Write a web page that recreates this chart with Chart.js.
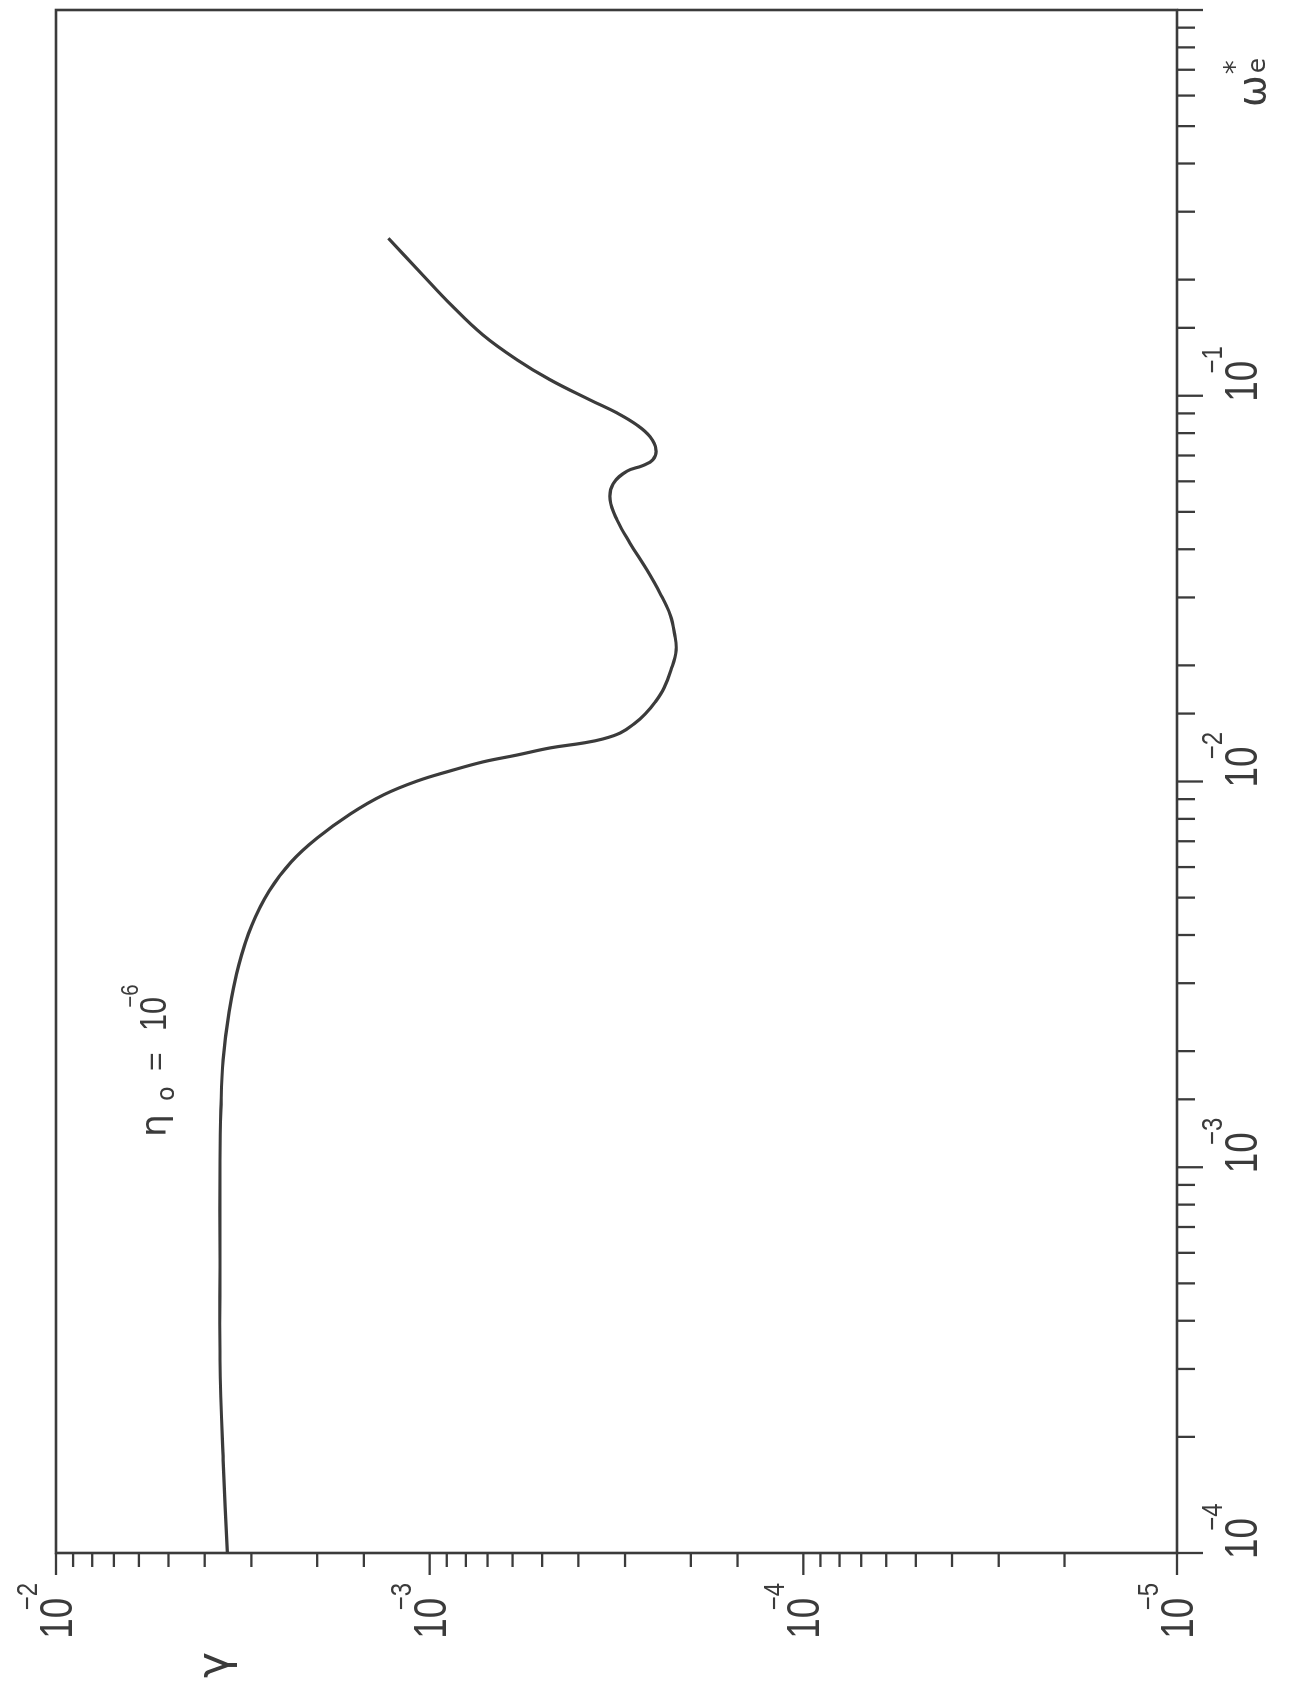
<!DOCTYPE html>
<html>
<head>
<meta charset="utf-8">
<script src="https://cdn.jsdelivr.net/npm/chart.js@4/dist/chart.umd.min.js"></script>
<style>
  html, body { margin: 0; padding: 0; background: #fff; overflow: hidden; }
  #wrap {
    position: absolute; left: 0; top: 0;
    width: 1687px; height: 1297px;
    transform-origin: 0 0;
    transform: translate(0, 1687px) rotate(-90deg);
  }
</style>
</head>
<body>
<div id="wrap"><canvas id="c" width="1687" height="1297" style="width:1687px;height:1297px"></canvas></div>
<script>
// ---- data ----
const omega = [1.00e-4, 1.74e-4, 3.17e-4, 5.75e-4, 1.04e-3, 1.41e-3, 1.90e-3, 2.53e-3, 3.35e-3, 4.25e-3,
  5.20e-3, 6.18e-3, 7.14e-3, 8.24e-3, 9.23e-3, 1.003e-2, 1.065e-2, 1.124e-2, 1.171e-2, 1.222e-2,
  1.258e-2, 1.289e-2, 1.336e-2, 1.410e-2, 1.496e-2, 1.608e-2, 1.747e-2, 1.946e-2, 2.19e-2, 2.41e-2,
  2.70e-2, 3.08e-2, 3.53e-2, 4.15e-2, 4.76e-2, 5.37e-2, 5.91e-2, 6.38e-2, 6.58e-2, 6.82e-2,
  7.24e-2, 7.82e-2, 8.40e-2, 9.02e-2, 9.75e-2, 0.110, 0.124, 0.1437, 0.171, 0.209, 0.256];
const gamma = [3.48e-3, 3.57e-3, 3.64e-3, 3.64e-3, 3.64e-3, 3.62e-3, 3.57e-3, 3.44e-3, 3.24e-3, 2.99e-3,
  2.69e-3, 2.35e-3, 2.00e-3, 1.63e-3, 1.33e-3, 1.08e-3, 8.82e-4, 7.20e-4, 5.84e-4, 4.76e-4,
  3.89e-4, 3.44e-4, 3.09e-4, 2.84e-4, 2.65e-4, 2.49e-4, 2.36e-4, 2.26e-4, 2.19e-4, 2.21e-4,
  2.27e-4, 2.42e-4, 2.62e-4, 2.91e-4, 3.15e-4, 3.29e-4, 3.23e-4, 2.96e-4, 2.70e-4, 2.53e-4,
  2.48e-4, 2.57e-4, 2.79e-4, 3.15e-4, 3.72e-4, 4.76e-4, 5.84e-4, 7.20e-4, 8.71e-4, 1.06e-3, 1.29e-3];
const omegaLabelExponents = [-4, -3, -2, -1];
const gammaLabelExponents = [-2, -3, -4, -5];
const curveLabel = { symbol: 'η', sub: 'o', eq: '=', base: '10', exp: '−6' };
const xTitle = { symbol: 'ω', sub: 'e', sup: '*' };
const yTitle = 'γ';

const INK = '#3b3b3b';
const NUM_FONT = "'Liberation Sans', 'DejaVu Sans', sans-serif";

function isDecade(v) {
  const l = Math.log10(v);
  return Math.abs(l - Math.round(l)) < 1e-6;
}

// draws "10" with a raised exponent
function drawPower(ctx, x, baseline, expText, align, baseSize, expSize, squeeze) {
  ctx.save();
  ctx.font = baseSize + 'px ' + NUM_FONT;
  const bw = ctx.measureText('10').width * squeeze;
  ctx.font = expSize + 'px ' + NUM_FONT;
  const mw = ctx.measureText('−').width * squeeze;
  const ew = ctx.measureText(expText).width * squeeze;
  const total = bw - mw * 0.9 + ew;
  const x0 = align === 'right' ? x - total : x;
  const digitH = baseSize * 0.716;
  ctx.fillStyle = INK;
  ctx.textAlign = 'left';
  ctx.textBaseline = 'alphabetic';
  ctx.translate(x0, baseline);
  ctx.scale(squeeze, 1);
  ctx.font = baseSize + 'px ' + NUM_FONT;
  ctx.fillText('10', 0, 0);
  ctx.font = expSize + 'px ' + NUM_FONT;
  ctx.fillText(expText, (bw - mw * 0.9) / squeeze, -digitH - 2);
  ctx.restore();
}

const paperAxes = {
  id: 'paperAxes',
  afterDraw(chart) {
    const { ctx, chartArea: a, scales: { x, y } } = chart;
    ctx.save();
    ctx.strokeStyle = INK;
    ctx.lineWidth = 2.6;
    ctx.strokeRect(a.left, a.top, a.right - a.left, a.bottom - a.top);
    ctx.lineWidth = 2.3;
    ctx.lineCap = 'butt';
    // omega axis ticks (right side of the page)
    x.ticks.forEach(t => {
      const p = x.getPixelForValue(t.value);
      const major = isDecade(t.value);
      ctx.beginPath();
      ctx.moveTo(p, a.bottom);
      ctx.lineTo(p, a.bottom + (major ? 26 : 18));
      ctx.stroke();
      const e = Math.round(Math.log10(t.value));
      if (major && omegaLabelExponents.includes(e)) {
        drawPower(ctx, p - 6, a.bottom + 80, '−' + Math.abs(e), 'left', 46, 30, 0.8);
      }
    });
    // gamma axis ticks (bottom of the page)
    y.ticks.forEach(t => {
      const p = y.getPixelForValue(t.value);
      const major = isDecade(t.value);
      ctx.beginPath();
      ctx.moveTo(a.left, p);
      ctx.lineTo(a.left - (major ? 22 : 14), p);
      ctx.stroke();
      const e = Math.round(Math.log10(t.value));
      if (major && gammaLabelExponents.includes(e)) {
        drawPower(ctx, a.left - 30, p + 16, '−' + Math.abs(e), 'right', 46, 30, 0.8);
      }
    });
    ctx.fillStyle = INK;
    ctx.textAlign = 'left';
    ctx.textBaseline = 'alphabetic';
    // y title
    ctx.font = "44px 'DejaVu Sans', sans-serif";
    ctx.fillText(yTitle, 9, 228);
    // x title
    const xt = a.right - 97;
    ctx.font = "38px 'DejaVu Sans', sans-serif";
    ctx.fillText(xTitle.symbol, xt, a.bottom + 88);
    const ow = ctx.measureText(xTitle.symbol).width;
    ctx.font = "25px 'DejaVu Sans', sans-serif";
    ctx.fillText(xTitle.sub, xt + ow + 2, a.bottom + 88);
    ctx.font = "28px 'DejaVu Sans', sans-serif";
    ctx.fillText(xTitle.sup, xt + ow + 1, a.bottom + 67);
    // curve label
    const lu = 550, lb = 166;
    ctx.font = "36px 'DejaVu Sans', sans-serif";
    ctx.fillText(curveLabel.symbol, lu, lb);
    ctx.font = "24px 'DejaVu Sans', sans-serif";
    ctx.fillText(curveLabel.sub, lu + 36, lb + 8);
    ctx.font = "32px " + NUM_FONT;
    ctx.fillText(curveLabel.eq, lu + 66, lb);
    ctx.restore();
    drawPower(ctx, lu + 106, lb, curveLabel.exp, 'left', 36, 24, 0.85);
  }
};

const points = omega.map((w, i) => ({ x: w, y: gamma[i] }));

new Chart(document.getElementById('c'), {
  type: 'scatter',
  data: {
    datasets: [{
      data: points,
      showLine: true,
      borderColor: INK,
      borderWidth: 3.2,
      pointRadius: 0,
      tension: 0.4,
      fill: false
    }]
  },
  options: {
    responsive: false,
    devicePixelRatio: 1,
    animation: false,
    events: [],
    layout: { padding: { top: 56, right: 10, left: 0, bottom: 0 } },
    plugins: { legend: { display: false }, tooltip: { enabled: false } },
    scales: {
      x: {
        type: 'logarithmic', min: 1e-4, max: 1,
        grid: { display: false }, border: { display: false },
        ticks: { display: false, autoSkip: false },
        afterFit(s) { s.height = 120; }
      },
      y: {
        type: 'logarithmic', min: 1e-5, max: 1e-2,
        grid: { display: false }, border: { display: false },
        ticks: { display: false, autoSkip: false },
        afterFit(s) { s.width = 134; }
      }
    }
  },
  plugins: [paperAxes]
});
</script>
</body>
</html>
